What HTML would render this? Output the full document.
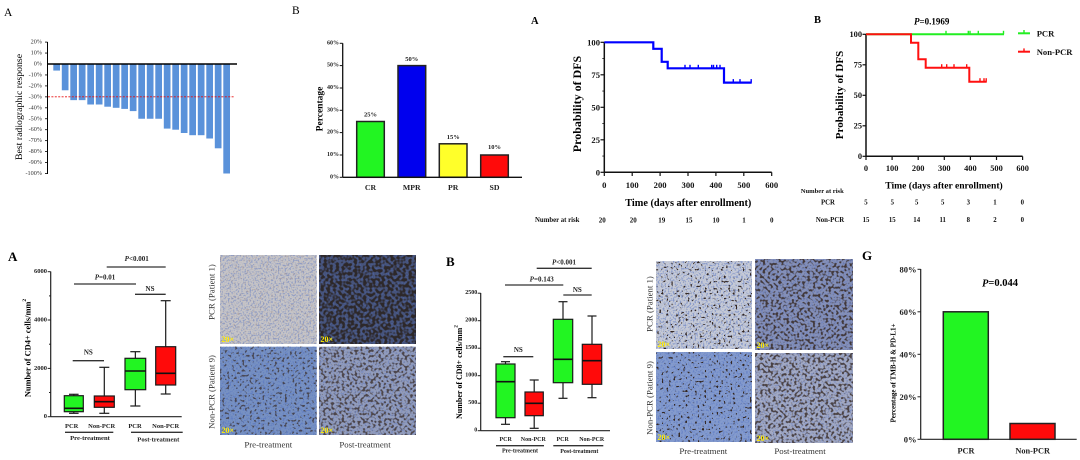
<!DOCTYPE html>
<html><head><meta charset="utf-8"><style>
html,body{margin:0;padding:0;background:#fff;}
svg{display:block;}
text{font-family:"Liberation Serif","Times New Roman",serif;}
.b{font-weight:bold;}
</style></head><body>
<svg width="1080" height="460" viewBox="0 0 1080 460" xmlns="http://www.w3.org/2000/svg">
<defs>
<filter id="fBlue" x="0" y="0" width="1" height="1" color-interpolation-filters="sRGB">
<feTurbulence type="fractalNoise" baseFrequency="0.6" numOctaves="1" seed="9"/>
<feColorMatrix type="matrix" values="0 0 0 0 0.32  0 0 0 0 0.44  0 0 0 0 0.76  5 0 0 0 -2.4"/>
</filter>
<filter id="fBrL" x="0" y="0" width="1" height="1" color-interpolation-filters="sRGB">
<feTurbulence type="fractalNoise" baseFrequency="0.45" numOctaves="1" seed="21"/>
<feColorMatrix type="matrix" values="0 0 0 0 0.55  0 0 0 0 0.43  0 0 0 0 0.4  5 0 0 0 -2.9"/>
</filter>
<filter id="fSparse" x="0" y="0" width="1" height="1" color-interpolation-filters="sRGB">
<feTurbulence type="fractalNoise" baseFrequency="0.42" numOctaves="1" seed="4"/>
<feColorMatrix type="matrix" values="0 0 0 0 0.2  0 0 0 0 0.15  0 0 0 0 0.13  14 0 0 0 -8.8"/>
</filter>
<filter id="fMed" x="0" y="0" width="1" height="1" color-interpolation-filters="sRGB">
<feTurbulence type="fractalNoise" baseFrequency="0.4" numOctaves="1" seed="11"/>
<feColorMatrix type="matrix" values="0 0 0 0 0.22  0 0 0 0 0.17  0 0 0 0 0.15  9 0 0 0 -5.2"/>
</filter>
<filter id="fDense" x="0" y="0" width="1" height="1" color-interpolation-filters="sRGB">
<feTurbulence type="fractalNoise" baseFrequency="0.38" numOctaves="1" seed="7"/>
<feColorMatrix type="matrix" values="0 0 0 0 0.22  0 0 0 0 0.17  0 0 0 0 0.15  7 0 0 0 -3.5"/>
</filter>
<filter id="fVery" x="0" y="0" width="1" height="1" color-interpolation-filters="sRGB">
<feTurbulence type="fractalNoise" baseFrequency="0.33" numOctaves="1" seed="3"/>
<feColorMatrix type="matrix" values="0 0 0 0 0.17  0 0 0 0 0.14  0 0 0 0 0.13  6 0 0 0 -2.5"/>
</filter>
</defs>

<!-- ============ Waterfall A ============ -->
<text x="4" y="16" font-size="11.5">A</text>
<text transform="translate(19.5,107) rotate(-90)" font-size="9.8" text-anchor="middle" dominant-baseline="central">Best radiographic response</text>
<g font-size="6.2" text-anchor="end" fill="#333" dominant-baseline="central">
<text x="42" y="42.1">20%</text><text x="42" y="53.05">10%</text><text x="42" y="64">0%</text>
<text x="42" y="74.95">-10%</text><text x="42" y="85.9">-20%</text><text x="42" y="96.85">-30%</text>
<text x="42" y="107.8">-40%</text><text x="42" y="118.75">-50%</text><text x="42" y="129.7">-60%</text>
<text x="42" y="140.65">-70%</text><text x="42" y="151.6">-80%</text><text x="42" y="162.55">-90%</text>
<text x="42" y="173.5">-100%</text>
</g>
<g stroke="#000" stroke-width="0.8">
<line x1="45" y1="42.1" x2="47.5" y2="42.1"/><line x1="45" y1="53.05" x2="47.5" y2="53.05"/>
<line x1="45" y1="74.95" x2="47.5" y2="74.95"/><line x1="45" y1="85.9" x2="47.5" y2="85.9"/>
<line x1="45" y1="96.85" x2="47.5" y2="96.85"/><line x1="45" y1="107.8" x2="47.5" y2="107.8"/>
<line x1="45" y1="118.75" x2="47.5" y2="118.75"/><line x1="45" y1="129.7" x2="47.5" y2="129.7"/>
<line x1="45" y1="140.65" x2="47.5" y2="140.65"/><line x1="45" y1="151.6" x2="47.5" y2="151.6"/>
<line x1="45" y1="162.55" x2="47.5" y2="162.55"/><line x1="45" y1="173.5" x2="47.5" y2="173.5"/>
</g>
<g fill="#5a92da">
<rect x="53.3" y="64" width="6.7" height="6.57"/>
<rect x="61.8" y="64" width="6.7" height="26.28"/>
<rect x="70.3" y="64" width="6.7" height="36.14"/>
<rect x="78.8" y="64" width="6.7" height="36.14"/>
<rect x="87.3" y="64" width="6.7" height="40.5"/>
<rect x="95.8" y="64" width="6.7" height="40.5"/>
<rect x="104.3" y="64" width="6.7" height="42.7"/>
<rect x="112.8" y="64" width="6.7" height="43.8"/>
<rect x="121.3" y="64" width="6.7" height="44.9"/>
<rect x="129.8" y="64" width="6.7" height="47.1"/>
<rect x="138.3" y="64" width="6.7" height="54.75"/>
<rect x="146.8" y="64" width="6.7" height="54.75"/>
<rect x="155.3" y="64" width="6.7" height="54.75"/>
<rect x="163.8" y="64" width="6.7" height="64.6"/>
<rect x="172.3" y="64" width="6.7" height="65.7"/>
<rect x="180.8" y="64" width="6.7" height="69"/>
<rect x="189.3" y="64" width="6.7" height="71.2"/>
<rect x="197.8" y="64" width="6.7" height="71.2"/>
<rect x="206.3" y="64" width="6.7" height="74.5"/>
<rect x="214.8" y="64" width="6.7" height="84.3"/>
<rect x="223.3" y="64" width="6.7" height="109.5"/>
</g>
<line x1="47.5" y1="42" x2="47.5" y2="174" stroke="#000" stroke-width="1"/>
<line x1="47.5" y1="64" x2="237" y2="64" stroke="#000" stroke-width="1.4"/>
<line x1="48" y1="96.8" x2="234" y2="96.8" stroke="#e81010" stroke-width="0.9" stroke-dasharray="2,1.4"/>

<!-- ============ Bar B ============ -->
<text x="292" y="14" font-size="11.5">B</text>
<text class="b" transform="translate(320.5,109) rotate(-90)" font-size="9.5" text-anchor="middle" dominant-baseline="central">Percentage</text>
<g class="b" font-size="6" text-anchor="end" fill="#222" dominant-baseline="central">
<text x="339" y="177.3">0%</text><text x="339" y="155">10%</text><text x="339" y="132.6">20%</text>
<text x="339" y="110.3">30%</text><text x="339" y="88">40%</text><text x="339" y="65.6">50%</text><text x="339" y="43.3">60%</text>
</g>
<g stroke="#111" stroke-width="1">
<line x1="339.7" y1="155" x2="342.7" y2="155"/><line x1="339.7" y1="132.6" x2="342.7" y2="132.6"/>
<line x1="339.7" y1="110.3" x2="342.7" y2="110.3"/><line x1="339.7" y1="88" x2="342.7" y2="88"/>
<line x1="339.7" y1="65.6" x2="342.7" y2="65.6"/><line x1="339.7" y1="43.3" x2="342.7" y2="43.3"/>
<line x1="339.7" y1="177.3" x2="342.7" y2="177.3"/>
</g>
<g stroke="#222" stroke-width="1.5">
<rect x="356.7" y="121.5" width="27.6" height="55.8" fill="#22f522"/>
<rect x="398" y="65.6" width="27.7" height="111.7" fill="#0000ee"/>
<rect x="439.3" y="143.8" width="27.7" height="33.5" fill="#ffff2a"/>
<rect x="480.7" y="155" width="27.6" height="22.3" fill="#ff0a0a"/>
</g>
<line x1="342.7" y1="43.3" x2="342.7" y2="177.3" stroke="#111" stroke-width="1.3"/>
<line x1="342.7" y1="177.3" x2="522" y2="177.3" stroke="#111" stroke-width="1.3"/>
<g class="b" font-size="6.5" text-anchor="middle" fill="#222" dominant-baseline="central">
<text x="370.5" y="115">25%</text><text x="411.8" y="59.3">50%</text>
<text x="453.2" y="137.3">15%</text><text x="494.5" y="147.7">10%</text>
</g>
<g class="b" font-size="7.8" text-anchor="middle" fill="#222" dominant-baseline="central">
<text x="370.5" y="187.5">CR</text><text x="411.8" y="187.5">MPR</text>
<text x="453.2" y="187.5">PR</text><text x="494.5" y="187.5">SD</text>
</g>

<!-- ============ KM A ============ -->
<text class="b" x="531" y="24" font-size="10.5">A</text>
<text class="b" transform="translate(577,104) rotate(-90)" font-size="12" text-anchor="middle" dominant-baseline="central">Probability of DFS</text>
<g class="b" font-size="8.6" text-anchor="end" fill="#111" dominant-baseline="central">
<text x="600" y="42.3">100</text><text x="600" y="74.8">75</text><text x="600" y="107.3">50</text>
<text x="600" y="139.8">25</text><text x="600" y="172.3">0</text>
</g>
<g stroke="#111" stroke-width="1.2">
<line x1="600.5" y1="42.3" x2="604.3" y2="42.3"/><line x1="600.5" y1="74.8" x2="604.3" y2="74.8"/>
<line x1="600.5" y1="107.3" x2="604.3" y2="107.3"/><line x1="600.5" y1="139.8" x2="604.3" y2="139.8"/>
<line x1="600.5" y1="172.3" x2="604.3" y2="172.3"/>
</g>
<g stroke="#111" stroke-width="0.8">
<line x1="602.3" y1="58.55" x2="604.3" y2="58.55"/><line x1="602.3" y1="91.05" x2="604.3" y2="91.05"/>
<line x1="602.3" y1="123.55" x2="604.3" y2="123.55"/><line x1="602.3" y1="156.05" x2="604.3" y2="156.05"/>
</g>
<line x1="604.3" y1="42" x2="604.3" y2="172.3" stroke="#111" stroke-width="1.5"/>
<line x1="604.3" y1="172.3" x2="771.7" y2="172.3" stroke="#111" stroke-width="1.5"/>
<g stroke="#111" stroke-width="1.2">
<line x1="604.3" y1="172.3" x2="604.3" y2="176"/><line x1="632.2" y1="172.3" x2="632.2" y2="176"/>
<line x1="660.1" y1="172.3" x2="660.1" y2="176"/><line x1="688" y1="172.3" x2="688" y2="176"/>
<line x1="715.9" y1="172.3" x2="715.9" y2="176"/><line x1="743.8" y1="172.3" x2="743.8" y2="176"/>
<line x1="771.7" y1="172.3" x2="771.7" y2="176"/>
</g>
<g class="b" font-size="8.6" text-anchor="middle" fill="#111" dominant-baseline="central">
<text x="604.3" y="185">0</text><text x="632.2" y="185">100</text><text x="660.1" y="185">200</text>
<text x="688" y="185">300</text><text x="715.9" y="185">400</text><text x="743.8" y="185">500</text>
<text x="771.7" y="185">600</text>
</g>
<text class="b" x="688.3" y="203.5" font-size="10.3" text-anchor="middle" dominant-baseline="central">Time (days after enrollment)</text>
<g class="b" font-size="7" fill="#111" dominant-baseline="central">
<text x="535" y="220.5" font-size="6.8">Number at risk</text>
<g text-anchor="middle">
<text x="602.3" y="220.5">20</text><text x="633.3" y="220.5">20</text><text x="661.7" y="220.5">19</text>
<text x="689" y="220.5">15</text><text x="716" y="220.5">10</text><text x="744" y="220.5">1</text>
<text x="771.7" y="220.5">0</text>
</g>
</g>
<path d="M604.3 42.3 H653.3 V48.8 H661.7 V61.8 H667.7 V68.3 H724 V82.6 H751.7" fill="none" stroke="#0000ff" stroke-width="2.2"/>
<g stroke="#0000ff" stroke-width="1.4">
<line x1="685" y1="68.3" x2="685" y2="64.8"/><line x1="690" y1="68.3" x2="690" y2="64.8"/>
<line x1="698.3" y1="68.3" x2="698.3" y2="64.8"/><line x1="711.7" y1="68.3" x2="711.7" y2="64.8"/>
<line x1="713.5" y1="68.3" x2="713.5" y2="64.8"/><line x1="716.7" y1="68.3" x2="716.7" y2="64.8"/>
<line x1="720" y1="68.3" x2="720" y2="64.8"/>
<line x1="733.3" y1="82.6" x2="733.3" y2="79.1"/><line x1="740" y1="82.6" x2="740" y2="79.1"/>
<line x1="751.2" y1="82.6" x2="751.2" y2="79.1"/>
</g>

<!-- ============ KM B ============ -->
<text class="b" x="814" y="23" font-size="10.5">B</text>
<text class="b" x="931.7" y="21.7" font-size="9" text-anchor="middle" dominant-baseline="central"><tspan font-style="italic">P</tspan>=0.1969</text>
<text class="b" transform="translate(840,95) rotate(-90)" font-size="11" text-anchor="middle" dominant-baseline="central">Probability of DFS</text>
<g class="b" font-size="8.4" text-anchor="end" fill="#111" dominant-baseline="central">
<text x="862" y="34.3">100</text><text x="862" y="64.8">75</text><text x="862" y="95.3">50</text>
<text x="862" y="125.8">25</text><text x="862" y="156.3">0</text>
</g>
<g stroke="#111" stroke-width="1.2">
<line x1="862.5" y1="34.3" x2="866" y2="34.3"/><line x1="862.5" y1="64.8" x2="866" y2="64.8"/>
<line x1="862.5" y1="95.3" x2="866" y2="95.3"/><line x1="862.5" y1="125.8" x2="866" y2="125.8"/>
<line x1="862.5" y1="156.3" x2="866" y2="156.3"/>
</g>
<line x1="866" y1="34" x2="866" y2="156.3" stroke="#111" stroke-width="1.5"/>
<line x1="866" y1="156.3" x2="1022.6" y2="156.3" stroke="#111" stroke-width="1.5"/>
<g stroke="#111" stroke-width="1.2">
<line x1="866" y1="156.3" x2="866" y2="160"/><line x1="892.1" y1="156.3" x2="892.1" y2="160"/>
<line x1="918.2" y1="156.3" x2="918.2" y2="160"/><line x1="944.3" y1="156.3" x2="944.3" y2="160"/>
<line x1="970.4" y1="156.3" x2="970.4" y2="160"/><line x1="996.5" y1="156.3" x2="996.5" y2="160"/>
<line x1="1022.6" y1="156.3" x2="1022.6" y2="160"/>
</g>
<g class="b" font-size="8.4" text-anchor="middle" fill="#111" dominant-baseline="central">
<text x="866" y="168.3">0</text><text x="892.1" y="168.3">100</text><text x="918.2" y="168.3">200</text>
<text x="944.3" y="168.3">300</text><text x="970.4" y="168.3">400</text><text x="996.5" y="168.3">500</text>
<text x="1022.6" y="168.3">600</text>
</g>
<text class="b" x="944" y="186" font-size="9.6" text-anchor="middle" dominant-baseline="central">Time (days after enrollment)</text>
<g class="b" font-size="6.8" fill="#111" dominant-baseline="central">
<text x="800.7" y="191.5" font-size="6.6">Number at risk</text>
<text x="828" y="203" text-anchor="middle">PCR</text>
<text x="830" y="220.3" text-anchor="middle">Non-PCR</text>
<g text-anchor="middle">
<text x="866" y="203">5</text><text x="892.3" y="203">5</text><text x="916.7" y="203">5</text>
<text x="942.7" y="203">5</text><text x="968.3" y="203">3</text><text x="995" y="203">1</text><text x="1022.3" y="203">0</text>
<text x="866" y="220.3">15</text><text x="892.3" y="220.3">15</text><text x="916.7" y="220.3">14</text>
<text x="942.7" y="220.3">11</text><text x="968.3" y="220.3">8</text><text x="995" y="220.3">2</text><text x="1022.3" y="220.3">0</text>
</g>
</g>
<path d="M866 34.3 H1004" fill="none" stroke="#22ee22" stroke-width="2"/>
<g stroke="#22ee22" stroke-width="1.4">
<line x1="946" y1="34.3" x2="946" y2="30.8"/><line x1="968.3" y1="34.3" x2="968.3" y2="30.8"/>
<line x1="970" y1="34.3" x2="970" y2="30.8"/><line x1="978.3" y1="34.3" x2="978.3" y2="30.8"/>
<line x1="1003.5" y1="34.3" x2="1003.5" y2="30.8"/>
</g>
<path d="M866 34.3 H911 V42.7 H918.3 V59.3 H925.7 V67.7 H969.3 V81.7 H986.7" fill="none" stroke="#ff1010" stroke-width="2"/>
<g stroke="#ff1010" stroke-width="1.4">
<line x1="941.7" y1="67.7" x2="941.7" y2="64.2"/><line x1="946.7" y1="67.7" x2="946.7" y2="64.2"/>
<line x1="954" y1="67.7" x2="954" y2="64.2"/><line x1="966.7" y1="67.7" x2="966.7" y2="64.2"/>
<line x1="980" y1="81.7" x2="980" y2="78.2"/><line x1="984" y1="81.7" x2="984" y2="78.2"/>
<line x1="986.2" y1="81.7" x2="986.2" y2="78.2"/>
</g>
<line x1="1018" y1="33.3" x2="1030" y2="33.3" stroke="#22ee22" stroke-width="2"/>
<line x1="1024" y1="33.3" x2="1024" y2="30" stroke="#22ee22" stroke-width="1.4"/>
<line x1="1018" y1="51.7" x2="1030" y2="51.7" stroke="#ff1010" stroke-width="2"/>
<line x1="1024" y1="51.7" x2="1024" y2="48.4" stroke="#ff1010" stroke-width="1.4"/>
<g class="b" font-size="8.6" fill="#111" dominant-baseline="central">
<text x="1036.7" y="33.5">PCR</text><text x="1036.7" y="52">Non-PCR</text>
</g>

<!-- ============ Box A (CD4) ============ -->
<text class="b" x="8" y="261" font-size="13">A</text>
<text class="b" transform="translate(28,348) rotate(-90)" font-size="8.4" text-anchor="middle" dominant-baseline="central">Number of CD4+ cells/mm<tspan font-size="5.5" dy="-3">2</tspan></text>
<g class="b" font-size="6.5" text-anchor="end" fill="#222" dominant-baseline="central">
<text x="47" y="416.7">0</text><text x="47" y="368.4">2000</text><text x="47" y="320">4000</text><text x="47" y="271.7">6000</text>
</g>
<g stroke="#222" stroke-width="1">
<line x1="47.7" y1="416.7" x2="50.7" y2="416.7"/><line x1="47.7" y1="368.4" x2="50.7" y2="368.4"/>
<line x1="47.7" y1="320" x2="50.7" y2="320"/><line x1="47.7" y1="271.7" x2="50.7" y2="271.7"/>
<line x1="49" y1="392.5" x2="50.7" y2="392.5"/><line x1="49" y1="344.2" x2="50.7" y2="344.2"/>
<line x1="49" y1="295.9" x2="50.7" y2="295.9"/>
</g>
<line x1="50.7" y1="271.5" x2="50.7" y2="416.7" stroke="#222" stroke-width="1.2"/>
<line x1="50.7" y1="416.7" x2="181.7" y2="416.7" stroke="#222" stroke-width="1.2"/>
<g stroke="#1a1a1a" stroke-width="1.2">
<line x1="73.8" y1="394.3" x2="73.8" y2="413.3"/><line x1="69" y1="394.3" x2="78.6" y2="394.3"/><line x1="69" y1="413.3" x2="78.6" y2="413.3"/>
<line x1="104.3" y1="367.3" x2="104.3" y2="413.3"/><line x1="99.3" y1="367.3" x2="109.3" y2="367.3"/><line x1="99.3" y1="413.3" x2="109.3" y2="413.3"/>
<line x1="135.35" y1="351.7" x2="135.35" y2="406"/><line x1="130.3" y1="351.7" x2="140.4" y2="351.7"/><line x1="130.3" y1="406" x2="140.4" y2="406"/>
<line x1="165.7" y1="300.7" x2="165.7" y2="394"/><line x1="160.7" y1="300.7" x2="170.7" y2="300.7"/><line x1="160.7" y1="394" x2="170.7" y2="394"/>
<rect x="64.3" y="395.7" width="19" height="16" fill="#22f522"/>
<rect x="94.3" y="396" width="20" height="11.3" fill="#ff0a0a"/>
<rect x="125" y="358.3" width="20.7" height="31.4" fill="#22f522"/>
<rect x="155.7" y="346.7" width="20" height="38.3" fill="#ff0a0a"/>
</g>
<g stroke="#111" stroke-width="1.6">
<line x1="64.3" y1="408.3" x2="83.3" y2="408.3"/><line x1="94.3" y1="401.7" x2="114.3" y2="401.7"/>
<line x1="125" y1="371" x2="145.7" y2="371"/><line x1="155.7" y1="373.3" x2="175.7" y2="373.3"/>
</g>
<g stroke="#333" stroke-width="1.3">
<line x1="106.7" y1="267" x2="165.7" y2="267"/>
<line x1="74" y1="284" x2="136" y2="284"/>
<line x1="135" y1="294.3" x2="165.7" y2="294.3"/>
<line x1="72.7" y1="360.7" x2="104" y2="360.7"/>
<line x1="65" y1="432.3" x2="113.3" y2="432.3"/>
<line x1="131" y1="432.3" x2="182.7" y2="432.3"/>
</g>
<g class="b" font-size="7" text-anchor="middle" fill="#222" dominant-baseline="central">
<text x="136.7" y="259"><tspan font-style="italic">P</tspan>&lt;0.001</text>
<text x="105" y="277.3"><tspan font-style="italic">P</tspan>=0.01</text>
<text x="150" y="289">NS</text>
<text x="88.3" y="352.3">NS</text>
</g>
<g class="b" font-size="6.5" text-anchor="middle" fill="#222" dominant-baseline="central">
<text x="71.7" y="426.7">PCR</text><text x="101.7" y="426.7">Non-PCR</text>
<text x="135" y="426.7">PCR</text><text x="165.7" y="426.7">Non-PCR</text>
<text x="90" y="438.5" font-size="6.6">Pre-treatment</text><text x="158.3" y="440" font-size="6.6">Post-treatment</text>
</g>

<!-- ============ IHC CD4 ============ -->
<rect x="220" y="255" width="96.7" height="89" fill="#c6c4c6"/>
<rect x="220" y="255" width="96.7" height="89" fill="#000" filter="url(#fBlue)" opacity="0.45"/>
<rect x="220" y="255" width="96.7" height="89" fill="#000" filter="url(#fBrL)" opacity="0.35"/>

<rect x="319" y="255" width="97" height="89" fill="#46537a"/>
<rect x="319" y="255" width="97" height="89" fill="#000" filter="url(#fBlue)" opacity="0.4"/>
<rect x="319" y="255" width="97" height="89" fill="#000" filter="url(#fVery)" opacity="0.9"/>

<rect x="220" y="346.7" width="96.7" height="88.3" fill="#7791c2"/>
<rect x="220" y="346.7" width="96.7" height="88.3" fill="#000" filter="url(#fBlue)" opacity="0.55"/>
<rect x="220" y="346.7" width="96.7" height="88.3" fill="#000" filter="url(#fMed)" opacity="0.7"/>

<rect x="319" y="346.7" width="97" height="88.3" fill="#939dbc"/>
<rect x="319" y="346.7" width="97" height="88.3" fill="#000" filter="url(#fBlue)" opacity="0.4"/>
<rect x="319" y="346.7" width="97" height="88.3" fill="#000" filter="url(#fDense)" opacity="0.75"/>
<g class="b" font-size="8" fill="#ffee00">
<text x="221.5" y="342">20×</text><text x="320.5" y="342">20×</text>
<text x="221.5" y="433">20×</text><text x="320.5" y="433">20×</text>
</g>
<g font-size="8.8" fill="#333" text-anchor="middle" dominant-baseline="central">
<text transform="translate(211.7,292) rotate(-90)">PCR (Patient 1)</text>
<text transform="translate(211.7,392) rotate(-90)">Non-PCR (Patient 9)</text>
<text x="268.3" y="444.5">Pre-treatment</text><text x="365" y="444.5">Post-treatment</text>
</g>

<!-- ============ Box B (CD8) ============ -->
<text class="b" x="446" y="266" font-size="13">B</text>
<text class="b" transform="translate(459.5,372) rotate(-90)" font-size="8" text-anchor="middle" dominant-baseline="central">Number of CD8+ cells/mm<tspan font-size="5.3" dy="-3">2</tspan></text>
<g class="b" font-size="6" text-anchor="end" fill="#222" dominant-baseline="central">
<text x="477.3" y="430.7">0</text><text x="477.3" y="403.2">500</text><text x="477.3" y="375.7">1000</text>
<text x="477.3" y="348.2">1500</text><text x="477.3" y="320.7">2000</text><text x="477.3" y="293.2">2500</text>
</g>
<g stroke="#222" stroke-width="1">
<line x1="477.7" y1="430.7" x2="480.7" y2="430.7"/><line x1="477.7" y1="403.2" x2="480.7" y2="403.2"/>
<line x1="477.7" y1="375.7" x2="480.7" y2="375.7"/><line x1="477.7" y1="348.2" x2="480.7" y2="348.2"/>
<line x1="477.7" y1="320.7" x2="480.7" y2="320.7"/><line x1="477.7" y1="293.2" x2="480.7" y2="293.2"/>
</g>
<line x1="480.7" y1="293" x2="480.7" y2="430.7" stroke="#222" stroke-width="1.2"/>
<line x1="480.7" y1="430.7" x2="610" y2="430.7" stroke="#222" stroke-width="1.2"/>
<g stroke="#1a1a1a" stroke-width="1.2">
<line x1="505.5" y1="361.7" x2="505.5" y2="424.3"/><line x1="501" y1="361.7" x2="510" y2="361.7"/><line x1="501" y1="424.3" x2="510" y2="424.3"/>
<line x1="534.2" y1="380" x2="534.2" y2="428.3"/><line x1="529.7" y1="380" x2="538.7" y2="380"/><line x1="529.7" y1="428.3" x2="538.7" y2="428.3"/>
<line x1="563" y1="301.7" x2="563" y2="398.3"/><line x1="558.5" y1="301.7" x2="567.5" y2="301.7"/><line x1="558.5" y1="398.3" x2="567.5" y2="398.3"/>
<line x1="592" y1="316" x2="592" y2="397.7"/><line x1="587.5" y1="316" x2="596.5" y2="316"/><line x1="587.5" y1="397.7" x2="596.5" y2="397.7"/>
<rect x="496" y="364" width="19" height="53.7" fill="#22f522"/>
<rect x="525" y="392" width="18.3" height="23.7" fill="#ff0a0a"/>
<rect x="553.3" y="319.3" width="19.4" height="63.4" fill="#22f522"/>
<rect x="582.3" y="344.3" width="19.4" height="40" fill="#ff0a0a"/>
</g>
<g stroke="#111" stroke-width="1.6">
<line x1="496" y1="381.7" x2="515" y2="381.7"/><line x1="525" y1="403.3" x2="543.3" y2="403.3"/>
<line x1="553.3" y1="359.3" x2="572.7" y2="359.3"/><line x1="582.3" y1="360.7" x2="601.7" y2="360.7"/>
</g>
<g stroke="#333" stroke-width="1.3">
<line x1="536.7" y1="268.3" x2="591.7" y2="268.3"/>
<line x1="505" y1="285" x2="563.3" y2="285"/>
<line x1="563.3" y1="295" x2="591.7" y2="295"/>
<line x1="503.3" y1="356.7" x2="533.3" y2="356.7"/>
<line x1="496" y1="445.7" x2="544" y2="445.7"/>
<line x1="553.3" y1="445.7" x2="603.3" y2="445.7"/>
</g>
<g class="b" font-size="7" text-anchor="middle" fill="#222" dominant-baseline="central">
<text x="564" y="262.7"><tspan font-style="italic">P</tspan>&lt;0.001</text>
<text x="541.7" y="279.3"><tspan font-style="italic">P</tspan>=0.143</text>
<text x="577.3" y="290">NS</text>
<text x="518.3" y="350">NS</text>
</g>
<g class="b" font-size="6" text-anchor="middle" fill="#222" dominant-baseline="central">
<text x="505.7" y="440">PCR</text><text x="533.3" y="440">Non-PCR</text>
<text x="562.7" y="440">PCR</text><text x="591.7" y="440">Non-PCR</text>
<text x="520" y="451.7">Pre-treatment</text><text x="579.3" y="452">Post-treatment</text>
</g>

<!-- ============ IHC CD8 ============ -->
<rect x="656" y="261" width="96" height="88" fill="#c6cad6"/>
<rect x="656" y="261" width="96" height="88" fill="#000" filter="url(#fBlue)" opacity="0.55"/>
<rect x="656" y="261" width="96" height="88" fill="#000" filter="url(#fSparse)"/>

<rect x="755" y="259" width="98" height="91" fill="#8590b8"/>
<rect x="755" y="259" width="98" height="91" fill="#000" filter="url(#fBlue)" opacity="0.4"/>
<rect x="755" y="259" width="98" height="91" fill="#000" filter="url(#fDense)" opacity="0.85"/>

<rect x="656" y="352" width="96" height="90" fill="#849bcd"/>
<rect x="656" y="352" width="96" height="90" fill="#000" filter="url(#fBlue)" opacity="0.5"/>
<rect x="656" y="352" width="96" height="90" fill="#000" filter="url(#fSparse)"/>

<rect x="755" y="353" width="98" height="90" fill="#a3aac4"/>
<rect x="755" y="353" width="98" height="90" fill="#000" filter="url(#fBlue)" opacity="0.4"/>
<rect x="755" y="353" width="98" height="90" fill="#000" filter="url(#fDense)" opacity="0.8"/>
<g class="b" font-size="8" fill="#ffee00">
<text x="657.5" y="347">20×</text><text x="756.5" y="348">20×</text>
<text x="657.5" y="440">20×</text><text x="756.5" y="441">20×</text>
</g>
<g font-size="8.8" fill="#333" text-anchor="middle" dominant-baseline="central">
<text transform="translate(649.3,304) rotate(-90)">PCR (Patient 1)</text>
<text transform="translate(649.3,398) rotate(-90)">Non-PCR (Patient 9)</text>
<text x="703.3" y="451">Pre-treatment</text><text x="800" y="451">Post-treatment</text>
</g>

<!-- ============ G ============ -->
<text class="b" x="862" y="260" font-size="13">G</text>
<text class="b" transform="translate(893.5,373) rotate(-90)" font-size="7" text-anchor="middle" dominant-baseline="central">Percentage of TMB-H &amp; PD-L1+</text>
<g class="b" font-size="8.5" text-anchor="end" fill="#222" dominant-baseline="central">
<text x="916.5" y="439.3">0%</text><text x="916.5" y="396.8">20%</text><text x="916.5" y="354.3">40%</text>
<text x="916.5" y="311.8">60%</text><text x="916.5" y="269.3">80%</text>
</g>
<g stroke="#222" stroke-width="1">
<line x1="917.5" y1="439.3" x2="920.7" y2="439.3"/><line x1="917.5" y1="396.8" x2="920.7" y2="396.8"/>
<line x1="917.5" y1="354.3" x2="920.7" y2="354.3"/><line x1="917.5" y1="311.8" x2="920.7" y2="311.8"/>
<line x1="917.5" y1="269.3" x2="920.7" y2="269.3"/>
</g>
<g stroke="#222" stroke-width="1.5">
<rect x="943.3" y="311.8" width="45" height="127.5" fill="#22f522"/>
<rect x="1010" y="423.5" width="45" height="15.8" fill="#ff0a0a"/>
</g>
<line x1="920.7" y1="269" x2="920.7" y2="439.3" stroke="#222" stroke-width="1.2"/>
<line x1="920.7" y1="439.3" x2="1076.7" y2="439.3" stroke="#222" stroke-width="1.2"/>
<text class="b" x="1000" y="283.3" font-size="10.5" text-anchor="middle" dominant-baseline="central"><tspan font-style="italic">P</tspan>=0.044</text>
<g class="b" font-size="8.3" text-anchor="middle" fill="#222" dominant-baseline="central">
<text x="966" y="451">PCR</text><text x="1032.7" y="451">Non-PCR</text>
</g>
</svg>
</body></html>
